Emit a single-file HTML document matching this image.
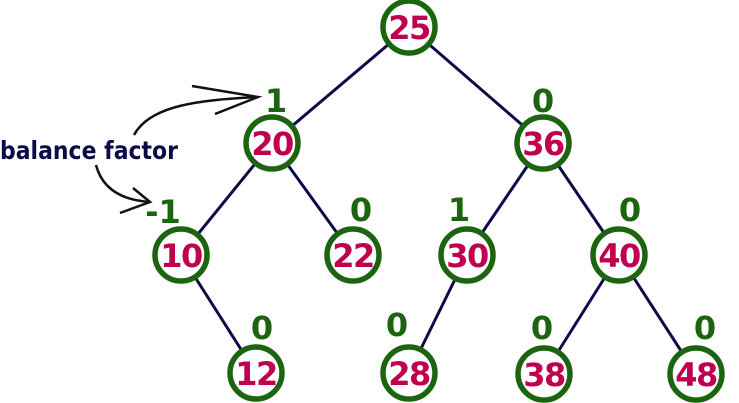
<!DOCTYPE html>
<html><head><style>
html,body{margin:0;padding:0;background:#fff;width:739px;height:403px;overflow:hidden}
text{font-family:"DejaVu Sans",sans-serif;font-weight:bold}
</style></head><body>
<svg width="739" height="403" xmlns="http://www.w3.org/2000/svg">
<g stroke="#0d0a4a" stroke-width="3">
<line x1="409" y1="27" x2="272" y2="143"/>
<line x1="409" y1="27" x2="543" y2="143"/>
<line x1="272" y1="143" x2="181" y2="255"/>
<line x1="272" y1="143" x2="353" y2="255"/>
<line x1="543" y1="143" x2="467" y2="255"/>
<line x1="543" y1="143" x2="619" y2="255"/>
<line x1="181" y1="255" x2="256" y2="373"/>
<line x1="467" y1="255" x2="409" y2="373"/>
<line x1="619" y1="255" x2="544" y2="374"/>
<line x1="619" y1="255" x2="696" y2="374"/>
</g>
<g fill="#fff" stroke="#1c6410" stroke-width="5.5">
<circle cx="409" cy="27" r="26"/>
<circle cx="272" cy="143" r="26"/>
<circle cx="543" cy="143" r="26"/>
<circle cx="181" cy="255" r="26"/>
<circle cx="353" cy="255" r="26"/>
<circle cx="467" cy="255" r="26"/>
<circle cx="619" cy="255" r="26"/>
<circle cx="256" cy="373" r="26"/>
<circle cx="409" cy="373" r="26"/>
<circle cx="544" cy="374" r="26"/>
<circle cx="696" cy="374" r="26"/>
</g>
<g fill="#c0004e" font-size="32" text-anchor="middle" style="letter-spacing:-1.5px">
<text x="409" y="39">25</text>
<text x="272" y="155">20</text>
<text x="543" y="155">36</text>
<text x="181" y="267">10</text>
<text x="353" y="267">22</text>
<text x="467" y="267">30</text>
<text x="619" y="267">40</text>
<text x="256" y="385">12</text>
<text x="409" y="385">28</text>
<text x="544" y="386">38</text>
<text x="696" y="386">48</text>
</g>
<g fill="#1c6410" font-size="32" text-anchor="middle">
<text x="276" y="112">1</text>
<text x="543" y="112">0</text>
<text x="163" y="223">-1</text>
<text x="361" y="221">0</text>
<text x="459" y="221">1</text>
<text x="630" y="221">0</text>
<text x="262" y="339">0</text>
<text x="397" y="336">0</text>
<text x="542" y="339">0</text>
<text x="705" y="339">0</text>
</g>
<text x="0" y="159" fill="#0d0a4a" font-size="25" textLength="178" lengthAdjust="spacingAndGlyphs">balance factor</text>
<g fill="none" stroke="#111" stroke-width="2.5">
<path d="M134,135 C150,105 200,100 258,97"/>
<path d="M192,86 L258,97 L215,114"/>
<path d="M96,165 C102,188 120,200 150,202"/>
<path d="M133,188 L150,202 L120,213"/>
</g>
</svg>
</body></html>
